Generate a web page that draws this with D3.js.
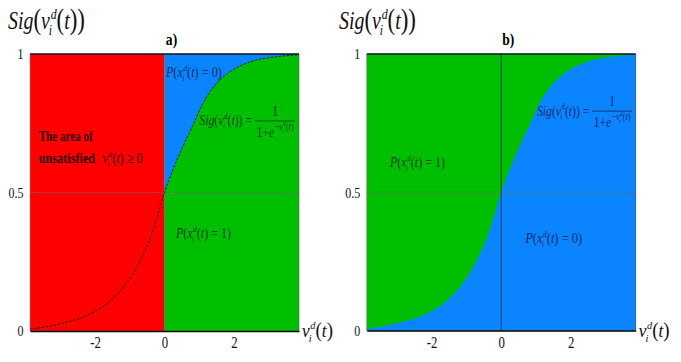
<!DOCTYPE html>
<html><head><meta charset="utf-8">
<script src="https://cdn.jsdelivr.net/npm/d3@7"></script>
<style>body{margin:0;background:#fff}svg{display:block}</style>
</head><body><svg id="c" width="681" height="362"></svg>
<script>
// ---- data ----
const sigX = [-3.87, -3.0, -2.2, -1.6, -1.15, -0.75, -0.38, 0, 0.3, 0.6, 0.85, 1.1, 1.5, 2.0, 2.55, 3.2, 3.87];
const sigY = [0.006, 0.026, 0.058, 0.104, 0.163, 0.242, 0.345, 0.5, 0.6, 0.685, 0.752, 0.821, 0.894, 0.945, 0.975, 0.99, 0.997];
const xTicks = [-2, 0, 2];
const yTicks = [0, 0.5, 1];
const yTickLabels = ["0", "0.5", "1"];
const panelTitles = ["a)", "b)"];
const xDomain = [-3.87, 3.87];
const yDomain = [0, 1];

const data = sigX.map((x, i) => ({x, y: sigY[i]}));
const FONT = '"Liberation Serif"';
const RED = "#ff0000", BLUE = "#0a84ff", GREEN = "#00bf00";
const NAVY = "#0c2a66", DKGREEN = "#0b3f0b", DKRED = "#2e0505";

const svg = d3.select("#c");

// ---- math text helper ----
function txt(g, x, y, size, it, bold, s) {
  return g.append("text").attr("x", x).attr("y", y)
    .style("font-family", FONT).attr("font-size", size)
    .attr("font-style", it ? "italic" : "normal")
    .attr("font-weight", bold ? "bold" : "normal")
    .style("white-space", "pre").text(s);
}
function run(g, parts, fs, x, base, style) {
  for (let p of parts) {
    if (typeof p === "string") p = {t: p};
    if (p.t !== undefined) {
      const it = p.it === undefined ? style.it : p.it;
      const t = txt(g, x, base, fs * (p.k || 1), it, p.b, p.t);
      x += t.node().getComputedTextLength();
    } else if (p.sup !== undefined || p.sub !== undefined) {
      let w = 0;
      if (p.sup) {
        const t = txt(g, x + fs * 0.04, base - fs * 0.42, fs * 0.6, true, false, p.sup);
        w = Math.max(w, t.node().getComputedTextLength() + fs * 0.04);
      }
      if (p.sub) {
        const t = txt(g, x - fs * 0.05, base + fs * 0.25, fs * 0.6, true, false, p.sub);
        w = Math.max(w, t.node().getComputedTextLength() - fs * 0.05);
      }
      x += w;
    } else if (p.parts) {
      x = run(g, p.parts, fs * p.k, x, base - p.raise * fs, style);
    } else if (p.frac) {
      const gn = g.append("g"), gd = g.append("g");
      const wn = run(gn, p.frac[0], fs, 0, 0, style);
      const wd = run(gd, p.frac[1], fs, 0, 0, style);
      const bw = Math.max(wn, wd) + fs * 0.25;
      const ax = base - fs * 0.3;
      gn.attr("transform", `translate(${x + (bw - wn) / 2},${ax - fs * 0.35})`);
      gd.attr("transform", `translate(${x + (bw - wd) / 2},${ax + fs * 1.05})`);
      g.append("line").attr("x1", x).attr("x2", x + bw).attr("y1", ax).attr("y2", ax)
        .attr("stroke", "currentColor").attr("stroke-width", 0.9);
      x += bw;
    } else if (p.sp) {
      x += p.sp * fs;
    }
  }
  return x;
}
function place(parent, px, py, parts, o) {
  const g = parent.append("g").style("color", o.color).attr("fill", o.color);
  const inner = g.append("g");
  const w = run(inner, parts, o.fs, 0, 0, {it: o.it !== false});
  const sx = o.w ? o.w / w : (o.sx || 0.78);
  g.attr("transform", `translate(${px},${py}) scale(${sx},1)`);
  return g;
}

// ---- expressions ----
const U = s => ({t: s, it: false});
const vid = [{t: "v"}, {sup: "d", sub: "i"}];
const pEq = v => [{t: "P"}, U("("), {t: "x"}, {sup: "d", sub: "i"}, U("("), {t: "t"}, U(")"), U(" = "), U(v), U(")")];
const sigFormula = [{t: "Sig"}, U("("), ...vid, U("("), {t: "t"}, U("))"), U(" = "),
  {frac: [[U("1")], [U("1+"), {t: "e"}, {parts: [U("−"), ...vid, U("("), {t: "t"}, U(")")], k: 0.72, raise: 0.45}]]}];
const yTitle = [{t: "Sig"}, {t: "(", it: false, k: 1.15}, ...vid, {t: "(", it: false, k: 1.15}, {t: "t"}, {t: "))", it: false, k: 1.15}];
const xTitle = [...vid, {t: "(", it: false, k: 1.1}, {t: "t"}, {t: ")", it: false, k: 1.1}];

// ---- panels ----
const panels = [
  {x0: 30, x1: 299, y0: 331, y1: 54, titleX: 8, mode: "a"},
  {x0: 366.7, x1: 635.7, y0: 330.5, y1: 54, titleX: 339, mode: "b"}
];

panels.forEach((P, pi) => {
  const xs = d3.scaleLinear().domain(xDomain).range([P.x0, P.x1]);
  const ys = d3.scaleLinear().domain(yDomain).range([P.y0, P.y1]);
  const g = svg.append("g");
  const area = d3.area().x(d => xs(d.x)).y0(ys(0)).y1(d => ys(d.y)).curve(d3.curveMonotoneX);
  const line = d3.line().x(d => xs(d.x)).y(d => ys(d.y)).curve(d3.curveMonotoneX);

  if (P.mode === "a") {
    g.append("rect").attr("x", xs(xDomain[0])).attr("y", ys(1)).attr("width", xs(0) - xs(xDomain[0]))
      .attr("height", ys(0) - ys(1)).attr("fill", RED);
    g.append("rect").attr("x", xs(0)).attr("y", ys(1)).attr("width", xs(xDomain[1]) - xs(0))
      .attr("height", ys(0) - ys(1)).attr("fill", BLUE);
    g.append("path").datum(data.filter(d => d.x >= 0)).attr("d", area).attr("fill", GREEN);
  } else {
    g.append("rect").attr("x", xs(xDomain[0])).attr("y", ys(1)).attr("width", xs(xDomain[1]) - xs(xDomain[0]))
      .attr("height", ys(0) - ys(1)).attr("fill", GREEN);
    g.append("path").datum(data).attr("d", area).attr("fill", BLUE);
  }

  // grid lines
  g.append("line").attr("x1", xs(xDomain[0])).attr("x2", xs(xDomain[1])).attr("y1", ys(0.5)).attr("y2", ys(0.5))
    .attr("stroke", "#6a6a6a").attr("stroke-opacity", 0.55).attr("stroke-width", 1);
  g.append("line").attr("x1", xs(0)).attr("x2", xs(0)).attr("y1", ys(0)).attr("y2", ys(1))
    .attr("stroke", P.mode === "a" ? "#707060" : "#1d3550").attr("stroke-opacity", P.mode === "a" ? 0.7 : 0.85).attr("stroke-width", 1);

  if (P.mode === "a") {
    g.append("path").datum(data).attr("d", line).attr("fill", "none")
      .attr("stroke", "#1a1a1a").attr("stroke-width", 0.9).attr("stroke-dasharray", "2.5,1.5");
  }

  // frame
  g.append("line").attr("x1", xs(xDomain[0])).attr("x2", xs(xDomain[1])).attr("y1", ys(1)).attr("y2", ys(1))
    .attr("stroke", "#101020").attr("stroke-width", 1.3);
  g.append("line").attr("x1", xs(xDomain[0])).attr("x2", xs(xDomain[0])).attr("y1", ys(0)).attr("y2", ys(1))
    .attr("stroke", "#808080").attr("stroke-opacity", 0.6);
  g.append("line").attr("x1", xs(xDomain[1])).attr("x2", xs(xDomain[1])).attr("y1", ys(0)).attr("y2", ys(1))
    .attr("stroke", "#404060").attr("stroke-opacity", 0.5);

  // axes
  const ax = g.append("g").attr("transform", `translate(0,${ys(0)})`)
    .call(d3.axisBottom(xs).tickValues(xTicks).tickFormat(d => String(d)).tickSize(0).tickPadding(6));
  ax.attr("font-family", FONT).attr("font-size", 16);
  ax.select(".domain").attr("stroke", "#000").attr("stroke-width", 1.6);
  ax.selectAll("text").style("font-family", FONT).attr("font-size", 16).attr("fill", "#111")
    .attr("transform", "scale(0.8,1)");

  const ay = g.append("g").attr("transform", `translate(${xs(xDomain[0])},0)`)
    .call(d3.axisLeft(ys).tickValues(yTicks).tickFormat((d, i) => yTickLabels[i]).tickSize(0).tickPadding(8));
  ay.attr("font-family", FONT).attr("font-size", 15);
  ay.select(".domain").remove();
  ay.selectAll("text").style("font-family", FONT).attr("font-size", 15).attr("fill", "#111")
    .attr("transform", "scale(0.8,1)");

  // panel title
  const tx = xs(0) + 7;
  txt(g, 0, 0, 17, false, true, panelTitles[pi]).attr("text-anchor", "middle")
    .attr("transform", `translate(${tx},45) scale(0.8,1)`).attr("fill", "#000");

  // axis titles
  place(g, P.titleX, 29, yTitle, {fs: 25, w: 77, color: "#111"});
  place(g, P.x1 + 3, 337, xTitle, {fs: 19, w: 31, color: "#111"});

  // annotations
  if (P.mode === "a") {
    place(g, xs(0.04), ys(0.917), pEq("0"), {fs: 15, w: 56, color: NAVY});
    place(g, xs(1.0), ys(0.742), sigFormula, {fs: 15, w: 96, color: DKGREEN});
    place(g, xs(0.33), ys(0.336), pEq("1"), {fs: 15, w: 55, color: DKGREEN});
    place(g, xs(-3.62), ys(0.686), [{t: "The area of", it: false, b: true}], {fs: 15, w: 54, color: DKRED});
    place(g, xs(-3.62), ys(0.606), [{t: "unsatisfied", it: false, b: true}, {sp: 0.6}, ...vid, U("("), {t: "t"}, U(")"), U(" ≥ 0")],
      {fs: 15, w: 104, color: DKRED});
  } else {
    place(g, xs(-3.2), ys(0.59), pEq("1"), {fs: 15, w: 55, color: DKGREEN});
    place(g, xs(1.03), ys(0.777), sigFormula, {fs: 15, w: 95, color: NAVY});
    place(g, xs(0.69), ys(0.315), pEq("0"), {fs: 15, w: 57, color: NAVY});
  }
});
</script></body></html>
